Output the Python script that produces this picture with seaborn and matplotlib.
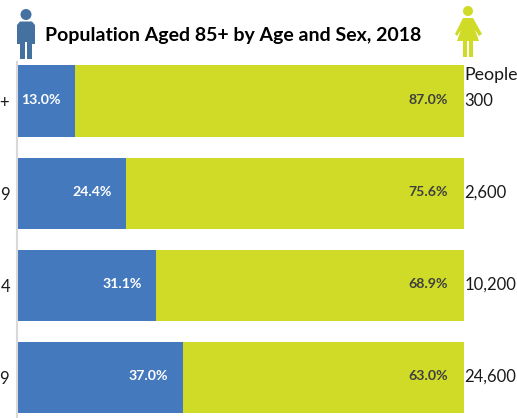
import matplotlib

matplotlib.use("Agg")
import matplotlib.pyplot as plt
import pandas as pd
import seaborn as sns
from matplotlib.patches import Circle, Polygon

AGE_GROUPS = ["100+", "95-99", "90-94", "85-89"]
MALE_PCT = [13.0, 24.4, 31.1, 37.0]
FEMALE_PCT = [87.0, 75.6, 68.9, 63.0]
PEOPLE = ["300", "2,600", "10,200", "24,600"]

BLUE = "#4579bd"
GREEN = "#cfdb26"
ICON_BLUE = "#44719f"
W, H = 517, 418


def draw_man(ax, color):
    ax.add_patch(Circle((26, 14.5), 5.5, color=color, lw=0))
    ax.add_patch(Polygon([(17, 25), (20, 21.5), (32, 21.5), (35, 25), (35, 44), (32, 44), (32, 59),
                          (27, 59), (27, 42), (25, 42), (25, 59), (20, 59), (20, 44), (17, 44)],
                         closed=True, color=color, lw=0))


def draw_woman(ax, color):
    ax.add_patch(Circle((468, 11), 5, color=color, lw=0))
    ax.add_patch(Polygon([(463, 18), (473, 18), (482, 34), (479, 36), (475, 30), (479, 41),
                          (473, 41), (473, 57), (469, 57), (469, 41), (467, 41), (467, 57),
                          (463, 57), (463, 41), (457, 41), (461, 30), (457, 36), (455, 34)],
                         closed=True, color=color, lw=0))


def main():
    sns.set_theme(style="white")
    plt.rcParams["font.family"] = ["Lato", "DejaVu Sans"]

    df = pd.DataFrame({"age": AGE_GROUPS, "male": MALE_PCT, "female": FEMALE_PCT})
    df["total"] = df["male"] + df["female"]

    fig = plt.figure(figsize=(W / 100, H / 100), dpi=100)
    ax = fig.add_axes([17.2 / W, 0, (464 - 17.2) / W, (418 - 62) / H])

    sns.barplot(data=df, y="age", x="total", color=GREEN, width=0.772, saturation=1, linewidth=0, ax=ax)
    sns.barplot(data=df, y="age", x="male", color=BLUE, width=0.772, saturation=1, linewidth=0, ax=ax)

    ax.set_xlim(0, 100)
    ax.set_ylim(3.445, -0.424)
    ax.set_xlabel("")
    ax.set_ylabel("")
    ax.set_xticks([])
    ax.tick_params(axis="y", length=0, pad=5, labelsize=12, labelcolor="#1a1a1a")
    for side in ["top", "right", "bottom"]:
        ax.spines[side].set_visible(False)
    ax.spines["left"].set_color("#d9d9d9")
    ax.spines["left"].set_linewidth(1.5)

    for i, (m, f) in enumerate(zip(MALE_PCT, FEMALE_PCT)):
        ax.text(m - 3.2, i - 0.01, f"{m:.1f}%", ha="right", va="center", color="white",
                fontsize=10.2, fontweight="bold")
        ax.text(m + f - 3.6, i - 0.01, f"{f:.1f}%", ha="right", va="center", color="#404040",
                fontsize=10.2, fontweight="bold")
        ax.text(100.1, i, PEOPLE[i], ha="left", va="center", color="#1a1a1a", fontsize=12,
                clip_on=False)
    ax.text(100.1, -0.28, "People", ha="left", va="center", color="#1a1a1a", fontsize=12.8,
            clip_on=False)

    overlay = fig.add_axes([0, 0, 1, 1], zorder=5)
    overlay.set_xlim(0, W)
    overlay.set_ylim(H, 0)
    overlay.axis("off")
    draw_man(overlay, ICON_BLUE)
    draw_woman(overlay, GREEN)
    overlay.text(45, 35, "Population Aged 85+ by Age and Sex, 2018", ha="left", va="center",
                 color="black", fontsize=14, fontweight="bold")

    fig.savefig("out.png", dpi=100, facecolor="white")


if __name__ == "__main__":
    main()
